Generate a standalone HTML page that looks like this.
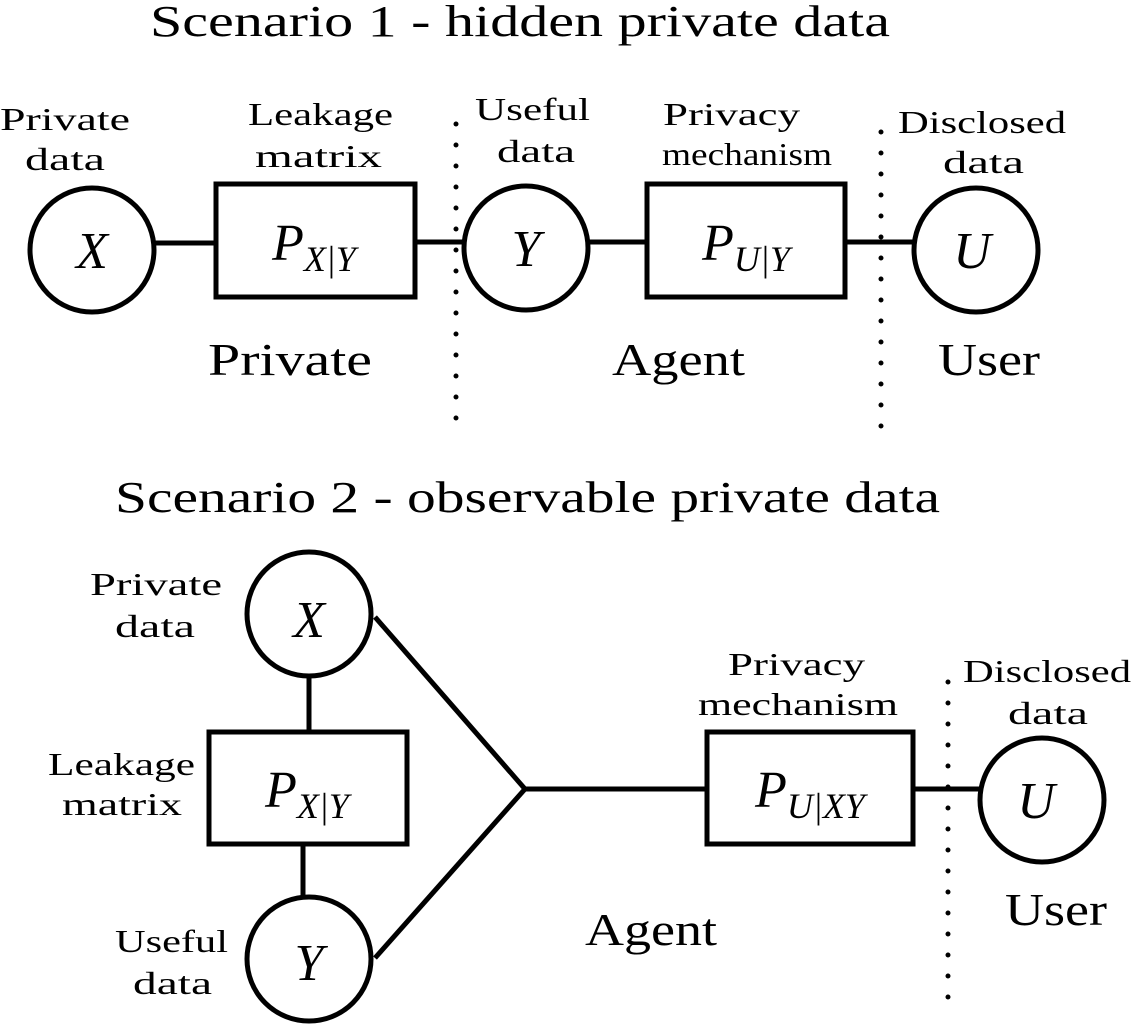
<!DOCTYPE html>
<html><head><style>body{margin:0;background:#fff}svg{display:block}</style></head><body>
<svg width="1134" height="1028" viewBox="0 0 1134 1028" font-family="'Liberation Serif',serif">
<g fill="none" stroke="#000" stroke-width="5">
<circle cx="92" cy="250" r="62"/>
<rect x="216" y="184" width="199" height="113"/>
<circle cx="526" cy="248" r="62"/>
<rect x="647" y="184" width="198" height="113"/>
<circle cx="976" cy="250" r="62"/>
<line x1="154" y1="243" x2="216" y2="243"/>
<line x1="415" y1="242" x2="464" y2="242"/>
<line x1="588" y1="242" x2="647" y2="242"/>
<line x1="845" y1="242" x2="914" y2="242"/>
<circle cx="309" cy="614" r="62"/>
<circle cx="309" cy="959" r="62"/>
<rect x="209" y="732" width="198" height="112"/>
<line x1="309" y1="676" x2="309" y2="732"/>
<line x1="303" y1="844" x2="303" y2="897"/>
<line x1="375" y1="617" x2="525" y2="789"/>
<line x1="375" y1="958" x2="525" y2="789"/>
<line x1="525" y1="789" x2="707" y2="789"/>
<rect x="707" y="732" width="206" height="112"/>
<line x1="913" y1="789" x2="980" y2="789"/>
<circle cx="1042" cy="800" r="62"/>
</g>
<g stroke="#000" stroke-width="5" stroke-linecap="round" stroke-dasharray="0 21">
<line x1="456" y1="124" x2="456" y2="435"/>
<line x1="881" y1="132" x2="881" y2="440"/>
<line x1="948" y1="682" x2="948" y2="1000"/>
</g>
<g fill="#000">
<text x="150" y="36" font-size="44" textLength="740" lengthAdjust="spacingAndGlyphs">Scenario 1 - hidden private data</text>
<text x="115" y="512" font-size="44" textLength="825" lengthAdjust="spacingAndGlyphs">Scenario 2 - observable private data</text>
<g font-size="32">
<text x="0" y="130" textLength="130" lengthAdjust="spacingAndGlyphs">Private</text><text x="25" y="170" textLength="80" lengthAdjust="spacingAndGlyphs">data</text>
<text x="248" y="125" textLength="145" lengthAdjust="spacingAndGlyphs">Leakage</text><text x="255" y="167" textLength="127" lengthAdjust="spacingAndGlyphs">matrix</text>
<text x="475" y="120" textLength="115" lengthAdjust="spacingAndGlyphs">Useful</text><text x="497" y="162" textLength="78" lengthAdjust="spacingAndGlyphs">data</text>
<text x="663" y="125" textLength="137" lengthAdjust="spacingAndGlyphs">Privacy</text><text x="662" y="165" textLength="170" lengthAdjust="spacingAndGlyphs">mechanism</text>
<text x="898" y="133" textLength="168" lengthAdjust="spacingAndGlyphs">Disclosed</text><text x="943" y="173" textLength="81" lengthAdjust="spacingAndGlyphs">data</text>
<text x="90" y="595" textLength="132" lengthAdjust="spacingAndGlyphs">Private</text><text x="115" y="637" textLength="80" lengthAdjust="spacingAndGlyphs">data</text>
<text x="48" y="775" textLength="147" lengthAdjust="spacingAndGlyphs">Leakage</text><text x="62" y="815" textLength="120" lengthAdjust="spacingAndGlyphs">matrix</text>
<text x="115" y="952" textLength="113" lengthAdjust="spacingAndGlyphs">Useful</text><text x="133" y="994" textLength="79" lengthAdjust="spacingAndGlyphs">data</text>
<text x="728" y="675" textLength="137" lengthAdjust="spacingAndGlyphs">Privacy</text><text x="698" y="715" textLength="200" lengthAdjust="spacingAndGlyphs">mechanism</text>
<text x="963" y="682" textLength="168" lengthAdjust="spacingAndGlyphs">Disclosed</text><text x="1008" y="724" textLength="80" lengthAdjust="spacingAndGlyphs">data</text>
</g>
<g font-size="46">
<text x="208" y="375" textLength="164" lengthAdjust="spacingAndGlyphs">Private</text>
<text x="612" y="375" textLength="133" lengthAdjust="spacingAndGlyphs">Agent</text>
<text x="938" y="375" textLength="102" lengthAdjust="spacingAndGlyphs">User</text>
<text x="585" y="945" textLength="132" lengthAdjust="spacingAndGlyphs">Agent</text>
<text x="1005" y="925" textLength="102" lengthAdjust="spacingAndGlyphs">User</text>
</g>
<g font-size="52" font-style="italic" text-anchor="middle">
<text x="92" y="268">X</text>
<text x="526" y="266">Y</text>
<text x="972" y="268">U</text>
<text x="309" y="637">X</text>
<text x="309" y="980">Y</text>
<text x="1036" y="818">U</text>
<text x="314" y="260">P<tspan font-size="36" dy="11">X|Y</tspan></text>
<text x="746" y="260">P<tspan font-size="36" dy="11">U|Y</tspan></text>
<text x="307" y="807">P<tspan font-size="36" dy="11">X|Y</tspan></text>
<text x="810" y="807">P<tspan font-size="36" dy="11">U|XY</tspan></text>
</g>
</g>
</svg>
</body></html>
